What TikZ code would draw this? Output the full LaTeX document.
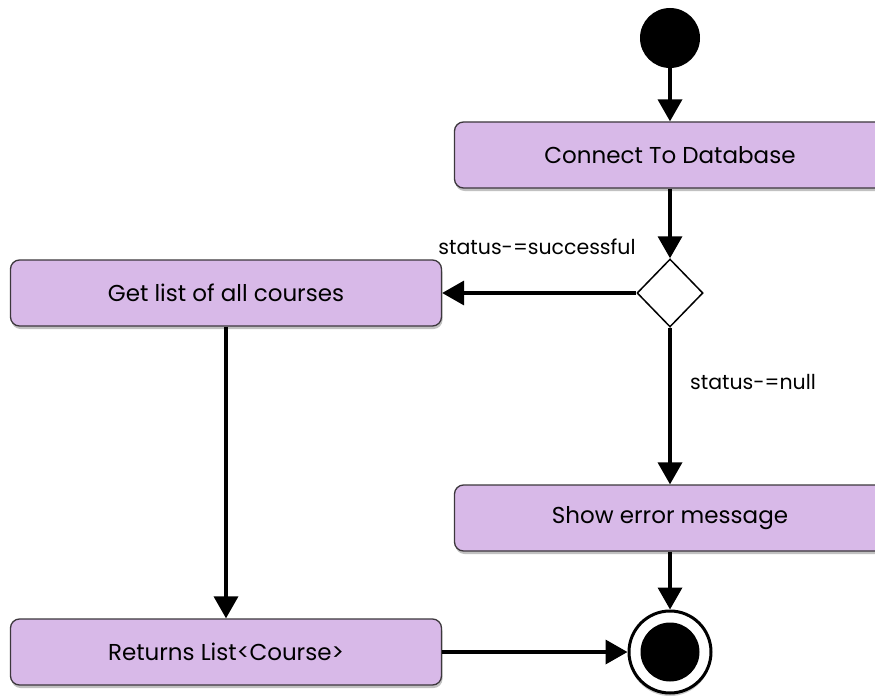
\documentclass[tikz,border=0pt]{standalone}
\usepackage{fontspec}
\setmainfont{Poppins}
\usetikzlibrary{arrows.meta,shapes.geometric,shadows}
\definecolor{boxfill}{RGB}{216,185,232}
\definecolor{boxline}{RGB}{60,55,60}
\tikzset{
  actbox/.style={draw=boxline, line width=1.3pt, fill=boxfill, rounded corners=9pt,
    minimum width=431pt, minimum height=66pt, inner sep=0pt,
    font=\fontsize{23}{26}\selectfont,
    drop shadow={shadow xshift=1pt, shadow yshift=-3pt, opacity=0.35, fill=black!70}},
  flow/.style={line width=3.6pt, -{Triangle[width=24pt,length=22pt]}},
  guard/.style={font=\fontsize{20.5}{24}\selectfont, inner sep=0pt},
}
\begin{document}
\begin{tikzpicture}[x=1pt,y=-1pt]
\useasboundingbox (0,0) rectangle (875,698);
\clip (0,0) rectangle (875,698);
\node[circle, fill=black, minimum size=60pt, inner sep=0pt] (start) at (670,38) {};
\node[actbox] (connect) at (670,155) {Connect To Database};
\node[diamond, draw=black, line width=1.5pt, fill=white, minimum width=66pt, minimum height=68pt, inner sep=0pt] (dec) at (670,293) {};
\node[actbox] (getlist) at (226,293) {Get list of all courses};
\node[actbox] (showerr) at (670,518) {Show error message};
\node[actbox] (returns) at (226,652) {Returns List<Course>};
\node[circle, draw=black, line width=3pt, fill=white, minimum size=82pt, inner sep=0pt,
  drop shadow={shadow xshift=0pt, shadow yshift=-3pt, opacity=0.3, fill=black!70}] (end) at (670,652) {};
\fill[black] (end.center) circle (29.5);
\node[guard] (lsucc) at (537,247) {status-=successful};
\node[guard] (lnull) at (753,382) {status-=null};
\draw[flow] (start) -- (connect);
\draw[flow] (connect) -- (dec);
\draw[flow] (dec) -- (getlist);
\draw[flow] (dec) -- (showerr);
\draw[flow] (getlist) -- (returns);
\draw[flow] (showerr) -- (end);
\draw[flow] (returns.east) -- (end.west);
\end{tikzpicture}
\end{document}
